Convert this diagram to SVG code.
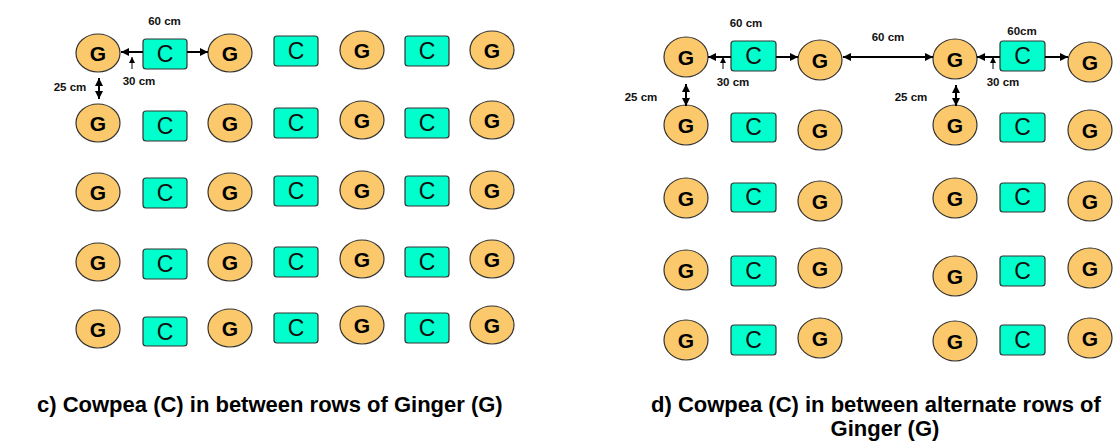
<svg xmlns="http://www.w3.org/2000/svg" width="1115" height="442" viewBox="0 0 1115 442">
<style>
.g ellipse{fill:#FBC96B;stroke:#333;stroke-width:1.2}
.c rect{fill:#00FFCC;stroke:#333;stroke-width:1.2}
.g text{font-family:"Liberation Sans",Arial,sans-serif;font-weight:bold;font-size:21px;fill:#000;text-anchor:middle}
.c text{font-family:"Liberation Sans",Arial,sans-serif;font-size:23px;fill:#111;text-anchor:middle}
.lbl{font-family:"Liberation Sans",Arial,sans-serif;font-weight:bold;font-size:11.5px;fill:#111;text-anchor:middle}
.cap{font-family:"Liberation Sans",Arial,sans-serif;font-weight:bold;font-size:22px;fill:#000}
.ar{stroke:#000;stroke-width:2;fill:none}
.sa{stroke:#000;stroke-width:1;fill:none}
</style>
<defs>
<marker id="ah" markerUnits="userSpaceOnUse" markerWidth="9" markerHeight="9" refX="8" refY="4" orient="auto-start-reverse" viewBox="0 0 9 9"><path d="M0,0 L8,4 L0,8 z" fill="#000"/></marker>
<marker id="ahs" markerUnits="userSpaceOnUse" markerWidth="7" markerHeight="7" refX="6" refY="3" orient="auto" viewBox="0 0 7 7"><path d="M0,0 L6,3 L0,6 z" fill="#000"/></marker>
</defs>
<rect width="1115" height="442" fill="#fff"/>

<!-- Left panel c -->
<g id="c-r1g1" class="g"><ellipse cx="98" cy="53" rx="22" ry="19"/><text x="98" y="60.5">G</text></g>
<g id="c-r1c1" class="c"><rect x="143" y="39" width="44" height="30" rx="3"/><text x="165" y="62">C</text></g>
<g id="c-r1g2" class="g"><ellipse cx="230" cy="53" rx="22" ry="19"/><text x="230" y="60.5">G</text></g>
<g id="c-r1c2" class="c"><rect x="274" y="36" width="44" height="30" rx="3"/><text x="296" y="59">C</text></g>
<g id="c-r1g3" class="g"><ellipse cx="362" cy="50" rx="22" ry="19"/><text x="362" y="57.5">G</text></g>
<g id="c-r1c3" class="c"><rect x="405" y="36" width="44" height="30" rx="3"/><text x="427" y="59">C</text></g>
<g id="c-r1g4" class="g"><ellipse cx="492" cy="50" rx="22" ry="19"/><text x="492" y="57.5">G</text></g>

<g id="c-r2g1" class="g"><ellipse cx="98" cy="123" rx="22" ry="19"/><text x="98" y="130.5">G</text></g>
<g id="c-r2c1" class="c"><rect x="143" y="111" width="44" height="30" rx="3"/><text x="165" y="134">C</text></g>
<g id="c-r2g2" class="g"><ellipse cx="230" cy="123" rx="22" ry="19"/><text x="230" y="130.5">G</text></g>
<g id="c-r2c2" class="c"><rect x="274" y="108" width="44" height="30" rx="3"/><text x="296" y="131">C</text></g>
<g id="c-r2g3" class="g"><ellipse cx="362" cy="120" rx="22" ry="19"/><text x="362" y="127.5">G</text></g>
<g id="c-r2c3" class="c"><rect x="405" y="108" width="44" height="30" rx="3"/><text x="427" y="131">C</text></g>
<g id="c-r2g4" class="g"><ellipse cx="492" cy="120" rx="22" ry="19"/><text x="492" y="127.5">G</text></g>

<g id="c-r3g1" class="g"><ellipse cx="98" cy="192" rx="22" ry="19"/><text x="98" y="199.5">G</text></g>
<g id="c-r3c1" class="c"><rect x="143" y="178" width="44" height="30" rx="3"/><text x="165" y="201">C</text></g>
<g id="c-r3g2" class="g"><ellipse cx="230" cy="192" rx="22" ry="19"/><text x="230" y="199.5">G</text></g>
<g id="c-r3c2" class="c"><rect x="274" y="176" width="44" height="30" rx="3"/><text x="296" y="199">C</text></g>
<g id="c-r3g3" class="g"><ellipse cx="362" cy="190" rx="22" ry="19"/><text x="362" y="197.5">G</text></g>
<g id="c-r3c3" class="c"><rect x="405" y="176" width="44" height="30" rx="3"/><text x="427" y="199">C</text></g>
<g id="c-r3g4" class="g"><ellipse cx="492" cy="190" rx="22" ry="19"/><text x="492" y="197.5">G</text></g>

<g id="c-r4g1" class="g"><ellipse cx="98" cy="262" rx="22" ry="19"/><text x="98" y="269.5">G</text></g>
<g id="c-r4c1" class="c"><rect x="143" y="249" width="44" height="30" rx="3"/><text x="165" y="272">C</text></g>
<g id="c-r4g2" class="g"><ellipse cx="230" cy="262" rx="22" ry="19"/><text x="230" y="269.5">G</text></g>
<g id="c-r4c2" class="c"><rect x="274" y="247" width="44" height="30" rx="3"/><text x="296" y="270">C</text></g>
<g id="c-r4g3" class="g"><ellipse cx="362" cy="259" rx="22" ry="19"/><text x="362" y="266.5">G</text></g>
<g id="c-r4c3" class="c"><rect x="405" y="247" width="44" height="30" rx="3"/><text x="427" y="270">C</text></g>
<g id="c-r4g4" class="g"><ellipse cx="492" cy="259" rx="22" ry="19"/><text x="492" y="266.5">G</text></g>

<g id="c-r5g1" class="g"><ellipse cx="98" cy="329" rx="22" ry="19"/><text x="98" y="336.5">G</text></g>
<g id="c-r5c1" class="c"><rect x="143" y="317" width="44" height="29" rx="3"/><text x="165" y="340">C</text></g>
<g id="c-r5g2" class="g"><ellipse cx="230" cy="328" rx="22" ry="19"/><text x="230" y="335.5">G</text></g>
<g id="c-r5c2" class="c"><rect x="274" y="313" width="44" height="30" rx="3"/><text x="296" y="336">C</text></g>
<g id="c-r5g3" class="g"><ellipse cx="362" cy="325" rx="22" ry="19"/><text x="362" y="332.5">G</text></g>
<g id="c-r5c3" class="c"><rect x="405" y="313" width="44" height="30" rx="3"/><text x="427" y="336">C</text></g>
<g id="c-r5g4" class="g"><ellipse cx="492" cy="325" rx="22" ry="19"/><text x="492" y="332.5">G</text></g>

<!-- Right panel d -->
<g id="d-r1g1" class="g"><ellipse cx="686" cy="57" rx="22" ry="20"/><text x="686" y="64.5">G</text></g>
<g id="d-r1c1" class="c"><rect x="731" y="41" width="45" height="30" rx="3"/><text x="753.5" y="64">C</text></g>
<g id="d-r1g2" class="g"><ellipse cx="820" cy="60" rx="22" ry="20"/><text x="820" y="67.5">G</text></g>
<g id="d-r1g3" class="g"><ellipse cx="955" cy="59" rx="22" ry="20"/><text x="955" y="66.5">G</text></g>
<g id="d-r1c2" class="c"><rect x="1000" y="41" width="45" height="30" rx="3"/><text x="1022.5" y="64">C</text></g>
<g id="d-r1g4" class="g"><ellipse cx="1090" cy="62" rx="22" ry="20"/><text x="1090" y="69.5">G</text></g>

<g id="d-r2g1" class="g"><ellipse cx="686" cy="125" rx="22" ry="20"/><text x="686" y="132.5">G</text></g>
<g id="d-r2c1" class="c"><rect x="731" y="113" width="45" height="29" rx="3"/><text x="753.5" y="135">C</text></g>
<g id="d-r2g2" class="g"><ellipse cx="820" cy="130" rx="22" ry="20"/><text x="820" y="137.5">G</text></g>
<g id="d-r2g3" class="g"><ellipse cx="955" cy="125" rx="22" ry="20"/><text x="955" y="132.5">G</text></g>
<g id="d-r2c2" class="c"><rect x="1000" y="113" width="45" height="29" rx="3"/><text x="1022.5" y="135">C</text></g>
<g id="d-r2g4" class="g"><ellipse cx="1090" cy="130" rx="22" ry="20"/><text x="1090" y="137.5">G</text></g>

<g id="d-r3g1" class="g"><ellipse cx="686" cy="198" rx="22" ry="20"/><text x="686" y="205.5">G</text></g>
<g id="d-r3c1" class="c"><rect x="731" y="183" width="45" height="29" rx="3"/><text x="753.5" y="205">C</text></g>
<g id="d-r3g2" class="g"><ellipse cx="820" cy="201" rx="22" ry="20"/><text x="820" y="208.5">G</text></g>
<g id="d-r3g3" class="g"><ellipse cx="955" cy="198" rx="22" ry="20"/><text x="955" y="205.5">G</text></g>
<g id="d-r3c2" class="c"><rect x="1000" y="183" width="45" height="29" rx="3"/><text x="1022.5" y="205">C</text></g>
<g id="d-r3g4" class="g"><ellipse cx="1090" cy="201" rx="22" ry="20"/><text x="1090" y="208.5">G</text></g>

<g id="d-r4g1" class="g"><ellipse cx="686" cy="270" rx="22" ry="20"/><text x="686" y="277.5">G</text></g>
<g id="d-r4c1" class="c"><rect x="731" y="256" width="45" height="30" rx="3"/><text x="753.5" y="279">C</text></g>
<g id="d-r4g2" class="g"><ellipse cx="820" cy="268" rx="22" ry="20"/><text x="820" y="275.5">G</text></g>
<g id="d-r4g3" class="g"><ellipse cx="955" cy="276" rx="22" ry="20"/><text x="955" y="283.5">G</text></g>
<g id="d-r4c2" class="c"><rect x="1000" y="256" width="45" height="30" rx="3"/><text x="1022.5" y="279">C</text></g>
<g id="d-r4g4" class="g"><ellipse cx="1090" cy="268" rx="22" ry="20"/><text x="1090" y="275.5">G</text></g>

<g id="d-r5g1" class="g"><ellipse cx="686" cy="340" rx="22" ry="20"/><text x="686" y="347.5">G</text></g>
<g id="d-r5c1" class="c"><rect x="731" y="325" width="45" height="30" rx="3"/><text x="753.5" y="348">C</text></g>
<g id="d-r5g2" class="g"><ellipse cx="820" cy="338" rx="22" ry="20"/><text x="820" y="345.5">G</text></g>
<g id="d-r5g3" class="g"><ellipse cx="955" cy="341" rx="22" ry="20"/><text x="955" y="348.5">G</text></g>
<g id="d-r5c2" class="c"><rect x="1000" y="325" width="45" height="30" rx="3"/><text x="1022.5" y="348">C</text></g>
<g id="d-r5g4" class="g"><ellipse cx="1090" cy="338" rx="22" ry="20"/><text x="1090" y="345.5">G</text></g>

<!-- connectors -->
<g id="connectors">
<line class="ar" x1="143" y1="52" x2="121" y2="52" marker-end="url(#ah)"/>
<line class="ar" x1="187" y1="52" x2="208" y2="52" marker-end="url(#ah)"/>
<line class="sa" x1="132" y1="69" x2="132" y2="57" marker-end="url(#ahs)"/>
<line class="ar" x1="99" y1="78" x2="99" y2="99" marker-start="url(#ah)" marker-end="url(#ah)"/>

<line class="ar" x1="731" y1="57" x2="708" y2="57" marker-end="url(#ah)"/>
<line class="ar" x1="776" y1="57" x2="798" y2="57" marker-end="url(#ah)"/>
<line class="sa" x1="723" y1="69" x2="723" y2="57" marker-end="url(#ahs)"/>
<line class="ar" x1="686" y1="84" x2="686" y2="106" marker-start="url(#ah)" marker-end="url(#ah)"/>
<line class="ar" x1="843" y1="57" x2="933" y2="57" marker-start="url(#ah)" marker-end="url(#ah)"/>
<line class="ar" x1="1000" y1="57" x2="977" y2="57" marker-end="url(#ah)"/>
<line class="ar" x1="1045" y1="57" x2="1068" y2="57" marker-end="url(#ah)"/>
<line class="sa" x1="993" y1="69" x2="993" y2="57" marker-end="url(#ahs)"/>
<line class="ar" x1="956" y1="85" x2="956" y2="106" marker-start="url(#ah)" marker-end="url(#ah)"/>
</g>

<!-- labels -->
<text class="lbl" x="164.5" y="25">60 cm</text>
<text class="lbl" x="139" y="85">30 cm</text>
<text class="lbl" x="70" y="91">25 cm</text>
<text class="lbl" x="746" y="27">60 cm</text>
<text class="lbl" x="733" y="86">30 cm</text>
<text class="lbl" x="641" y="101">25 cm</text>
<text class="lbl" x="888" y="41">60 cm</text>
<text class="lbl" x="1022" y="35">60cm</text>
<text class="lbl" x="1003" y="86">30 cm</text>
<text class="lbl" x="911" y="101">25 cm</text>

<text class="cap" x="37" y="412">c) Cowpea (C) in between rows of Ginger (G)</text>
<text class="cap" x="651" y="412">d) Cowpea (C) in between alternate rows of</text>
<text class="cap" x="885" y="436" text-anchor="middle">Ginger (G)</text>
</svg>
